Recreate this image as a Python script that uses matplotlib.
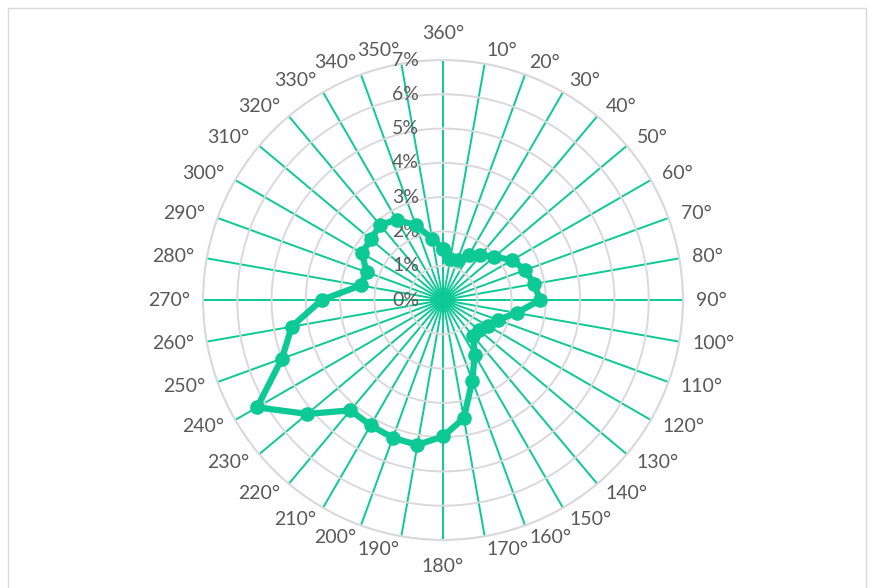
import numpy as np
import matplotlib
matplotlib.use('Agg')
import matplotlib.pyplot as plt
from matplotlib.patches import Rectangle
from matplotlib.transforms import ScaledTranslation

# Направления (градусы) и доля, %
directions = [360] + list(range(10, 360, 10))
share = [1.50, 1.22, 1.25, 1.50, 1.70, 1.96, 2.33, 2.55, 2.70, 2.83,
         2.18, 1.70, 1.50, 1.36, 1.36, 1.85, 2.50, 3.50, 3.98, 4.29,
         4.28, 4.22, 4.20, 5.17, 6.26, 5.00, 4.48, 3.54, 2.44, 2.37,
         2.73, 2.75, 2.85, 2.71, 2.32, 1.82]
r_ticks = [0, 1, 2, 3, 4, 5, 6, 7]

green = '#0CC995'
grey_line = '#D9D9D9'
text_col = '#595959'

plt.rcParams['font.family'] = ['Lato', 'DejaVu Sans']

fig = plt.figure(figsize=(8.7, 5.88), dpi=100)
fig.patches.append(Rectangle((8 / 870, -0.01), 858 / 870, 1 - 8 / 588 + 0.01,
                             transform=fig.transFigure, fill=False,
                             edgecolor=grey_line, lw=1))

ax = fig.add_axes([203 / 870, 48 / 588, 480 / 870, 480 / 588], projection='polar')
ax.set_theta_zero_location('N')
ax.set_theta_direction(-1)

angles = np.deg2rad(np.array(directions) % 360)
vals = np.array(share)

# Сетка: зелёные лучи и серые окружности
ax.set_xticks(angles)
ax.set_xticklabels([])
ax.tick_params(axis='x', length=0)
ax.xaxis.grid(True, color=green, lw=1.4)
ax.set_yticks(r_ticks[1:])
ax.set_yticklabels([])
ax.yaxis.grid(True, color=grey_line, lw=1.4)
ax.spines['polar'].set_color(grey_line)
ax.spines['polar'].set_linewidth(1.4)
ax.set_ylim(0, 7)
ax.set_axisbelow(True)

# Подписи категорий, как в Excel
for d, a in zip(directions, angles):
    s, c = np.sin(a), np.cos(a)
    if abs(s) < 0.05:
        g = 27
        ha = 'center'
    else:
        g = 13
        ha = 'left' if s > 0 else 'right'
    off = ax.transData + ScaledTranslation(g * s / 100, g * c / 100, fig.dpi_scale_trans)
    ax.text(a, 7, f'{d}°', transform=off, ha=ha, va='center',
            color=text_col, fontsize=14, clip_on=False)

# Подписи радиальной оси слева от вертикали
shift = ax.transData + ScaledTranslation(-0.24, 0, fig.dpi_scale_trans)
for v in r_ticks:
    ax.text(0, v, f'{v}%', transform=shift, ha='right', va='center',
            color=text_col, fontsize=14)

ax.plot(np.append(angles, angles[0]), np.append(vals, vals[0]),
        color=green, lw=4.5, marker='o', markersize=9.5, zorder=5)

plt.savefig('out.png', dpi=100)
